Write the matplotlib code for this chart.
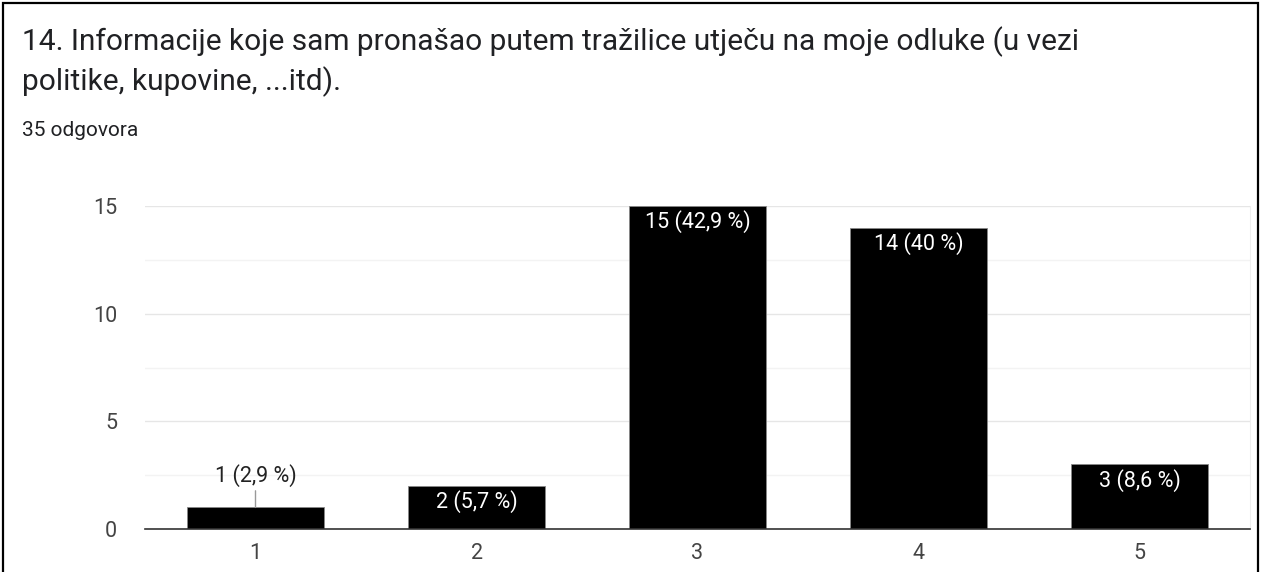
import matplotlib.pyplot as plt
from matplotlib.patches import Rectangle

plt.rcParams['font.family'] = ['Roboto', 'DejaVu Sans']

# Podaci
kategorije = ['1', '2', '3', '4', '5']
odgovori = [1, 2, 15, 14, 3]
postotci = ['2,9', '5,7', '42,9', '40', '8,6']
y_ticks = [0, 5, 10, 15]

fig = plt.figure(figsize=(12.62, 5.72), dpi=100)
W, H = 1262, 572

# Okvir oko cijele slike
fig.patches.append(Rectangle((3 / W, -0.05), 1255 / W, 1.05 - 3 / H,
                             transform=fig.transFigure, fill=False,
                             edgecolor='black', linewidth=1.6))

fig.text(22 / W, 1 - 42 / H, '14. Informacije koje sam pronašao putem tražilice utječu na moje odluke (u vezi',
         fontsize=21.5, color='#202124', va='center', ha='left')
fig.text(22 / W, 1 - 82 / H, 'politike, kupovine, ...itd).',
         fontsize=21.5, color='#202124', va='center', ha='left')
fig.text(22 / W, 1 - 130 / H, '35 odgovora', fontsize=15, color='#202124', va='center', ha='left')

ax = fig.add_axes([145 / W, 43 / H, 1105 / W, 323 / H])
x = list(range(1, len(kategorije) + 1))
ax.bar(x, odgovori, width=0.617, color='black', edgecolor='#888888', linewidth=0.6, zorder=3)

ax.set_xlim(0.5, 5.5)
ax.set_ylim(0, 15)
ax.set_yticks(y_ticks)
ax.set_yticks([2.5, 7.5, 12.5], minor=True)
ax.set_xticks(x)
ax.set_xticklabels(kategorije)
ax.grid(axis='y', which='major', color='#e6e6e6', linewidth=1, zorder=0)
ax.grid(axis='y', which='minor', color='#f3f3f3', linewidth=1, zorder=0)
ax.tick_params(axis='both', which='both', length=0, labelsize=15.5, labelcolor='#444444')
ax.tick_params(axis='y', pad=20)
ax.tick_params(axis='x', pad=10)
for s in ['top', 'left']:
    ax.spines[s].set_visible(False)
ax.spines['right'].set_color('#eeeeee')
ax.spines['bottom'].set_color('#333333')
ax.spines['bottom'].set_linewidth(1.2)
ax.spines['bottom'].set_zorder(4)

for xi, v, p in zip(x, odgovori, postotci):
    lbl = f'{v} ({p} %)'
    if v >= 2:
        ax.annotate(lbl, (xi, v), xytext=(0, -3), textcoords='offset points',
                    ha='center', va='top', color='white', fontsize=15.5, zorder=5)
    else:
        ax.annotate(lbl, (xi, v), xytext=(0, 15), textcoords='offset points',
                    ha='center', va='bottom', color='#222222', fontsize=15.5, zorder=5,
                    arrowprops=dict(arrowstyle='-', color='#999999', linewidth=1,
                                    shrinkA=1, shrinkB=0))

fig.savefig('out.png', dpi=100)
